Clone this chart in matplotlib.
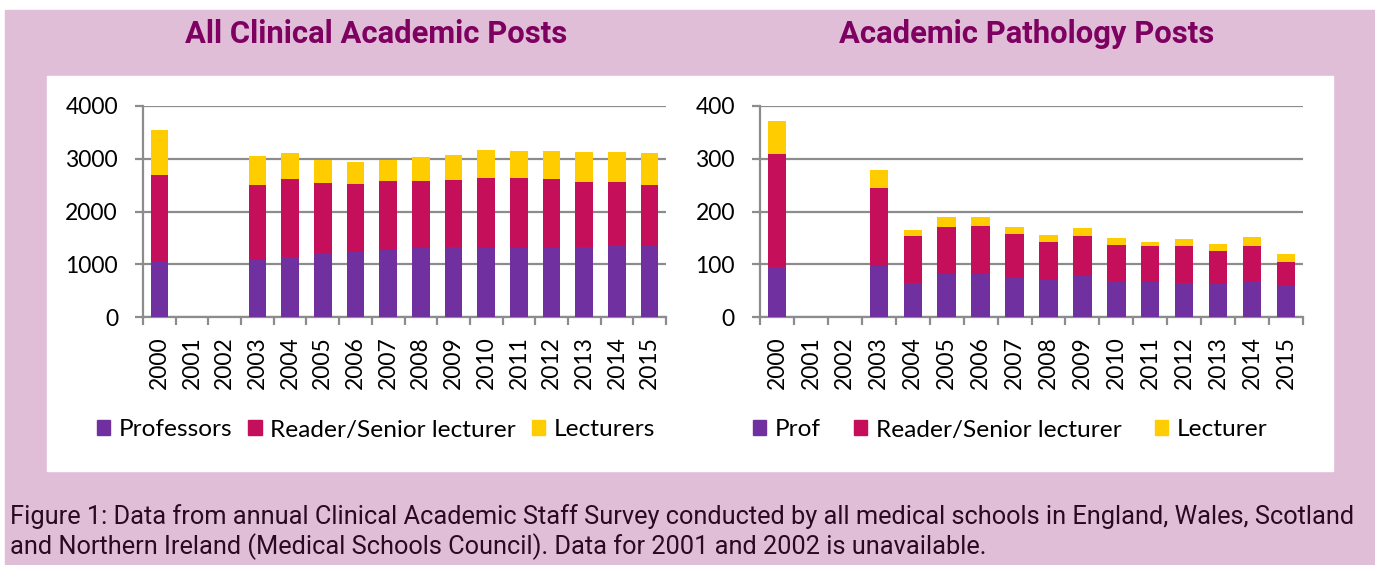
import matplotlib
matplotlib.use('Agg')
import matplotlib.pyplot as plt
from matplotlib.patches import Rectangle, Patch
import numpy as np

nan = np.nan

# Datos
years = ['2000', '2001', '2002', '2003', '2004', '2005', '2006', '2007',
         '2008', '2009', '2010', '2011', '2012', '2013', '2014', '2015']

all_prof = [1040, nan, nan, 1080, 1145, 1215, 1225, 1265, 1310, 1325, 1310, 1300, 1300, 1325, 1360, 1345]
all_reader = [1660, nan, nan, 1420, 1470, 1330, 1305, 1305, 1270, 1270, 1325, 1330, 1310, 1240, 1205, 1160]
all_lect = [850, nan, nan, 550, 490, 430, 405, 415, 445, 485, 535, 525, 545, 565, 560, 595]

path_prof = [94, nan, nan, 97, 65, 82, 82, 75, 70, 77, 68, 67, 65, 62, 68, 58]
path_reader = [215, nan, nan, 148, 88, 89, 91, 83, 73, 76, 69, 68, 70, 64, 67, 47]
path_lect = [63, nan, nan, 33, 12, 19, 17, 13, 12, 16, 12, 8, 13, 12, 17, 15]

all_labels = ['Professors', 'Reader/Senior lecturer', 'Lecturers']
path_labels = ['Prof', 'Reader/Senior lecturer', 'Lecturer']

colors = ['#7030A0', '#C50F5A', '#FFCC00']
PINK = '#E0BED8'
TITLE_C = '#7E0060'
GRID_C = '#8C8C8C'

TICK_FONT = ['Lato', 'DejaVu Sans']
TITLE_FONT = ['Roboto', 'DejaVu Sans']
CAP_FONT = ['Roboto', 'DejaVu Sans']

W, H = 1375, 565
fig = plt.figure(figsize=(W / 100, H / 100), dpi=100)
fig.patch.set_facecolor('white')


def px_rect(x0, y0, x1, y1):
    # convierte pixeles (desde arriba) a coordenadas de figura
    return x0 / W, (H - y1) / H, (x1 - x0) / W, (y1 - y0) / H


x, y, w, h = px_rect(5, 10, 1375, 565)
fig.patches.append(Rectangle((x, y), w, h, transform=fig.transFigure, color=PINK, zorder=-10))
x, y, w, h = px_rect(47, 76, 1333, 471)
fig.patches.append(Rectangle((x, y), w, h, transform=fig.transFigure, color='white', zorder=-9))


def draw_panel(rect, prof, reader, lect, ymax, step, labels, title, title_x, leg_x, colspace):
    ax = fig.add_axes(px_rect(*rect))
    ax.set_facecolor('none')
    pos = np.arange(len(years))
    prof = np.array(prof, dtype=float)
    reader = np.array(reader, dtype=float)
    lect = np.array(lect, dtype=float)
    bw = 0.54
    ax.bar(pos, prof, bw, color=colors[0], zorder=3)
    ax.bar(pos, reader, bw, bottom=prof, color=colors[1], zorder=3)
    ax.bar(pos, lect, bw, bottom=prof + reader, color=colors[2], zorder=3)

    ax.set_xlim(-0.5, len(years) - 0.5)
    ax.set_ylim(0, ymax)
    ax.set_yticks(np.arange(0, ymax + 1, step))
    ax.yaxis.grid(True, color=GRID_C, linewidth=1.6, zorder=0)
    ax.set_axisbelow(True)
    for s in ['top', 'right']:
        ax.spines[s].set_visible(False)
    for s in ['left', 'bottom']:
        ax.spines[s].set_color(GRID_C)
        ax.spines[s].set_linewidth(1.6)
    ax.tick_params(axis='y', length=6, width=1.6, color=GRID_C, pad=12,
                   labelsize=16.5)
    ax.set_xticks(pos)
    ax.set_xticklabels(years, rotation=90)
    ax.set_xticks(np.arange(-0.5, len(years), 1), minor=True)
    ax.tick_params(axis='x', which='major', length=0, pad=14, labelsize=16.5)
    ax.tick_params(axis='x', which='minor', length=6, width=1.6, color=GRID_C)
    for t in ax.get_xticklabels() + ax.get_yticklabels():
        t.set_family(TICK_FONT)

    fig.text(title_x / W, (H - 34) / H, title, ha='center', va='center',
             fontsize=22.3, fontweight='bold', color=TITLE_C, family=TITLE_FONT)

    handles = [Patch(color=c) for c in colors]
    fig.legend(handles, labels, loc='center', ncol=3, frameon=False,
               bbox_to_anchor=(leg_x / W, (H - 430) / H),
               handlelength=0.55, handleheight=0.55, handletextpad=0.35,
               columnspacing=colspace, prop={'family': TICK_FONT, 'size': 17.6})
    return ax


draw_panel((143, 106, 666, 317), all_prof, all_reader, all_lect, 4000, 1000,
           all_labels, 'All Clinical Academic Posts', 376, 376, 0.65)
draw_panel((760, 106, 1303, 317), path_prof, path_reader, path_lect, 400, 100,
           path_labels, 'Academic Pathology Posts', 1027, 1010, 1.35)

caption = ('Figure 1: Data from annual Clinical Academic Staff Survey conducted by all medical schools in England, Wales, Scotland\n'
           'and Northern Ireland (Medical Schools Council). Data for 2001 and 2002 is unavailable.')
fig.text(10 / W, (H - 532) / H, caption, ha='left', va='center', fontsize=18.3,
         color='#2A0A22', family=CAP_FONT, linespacing=1.2)

fig.savefig('out.png', dpi=100, facecolor=fig.get_facecolor())
